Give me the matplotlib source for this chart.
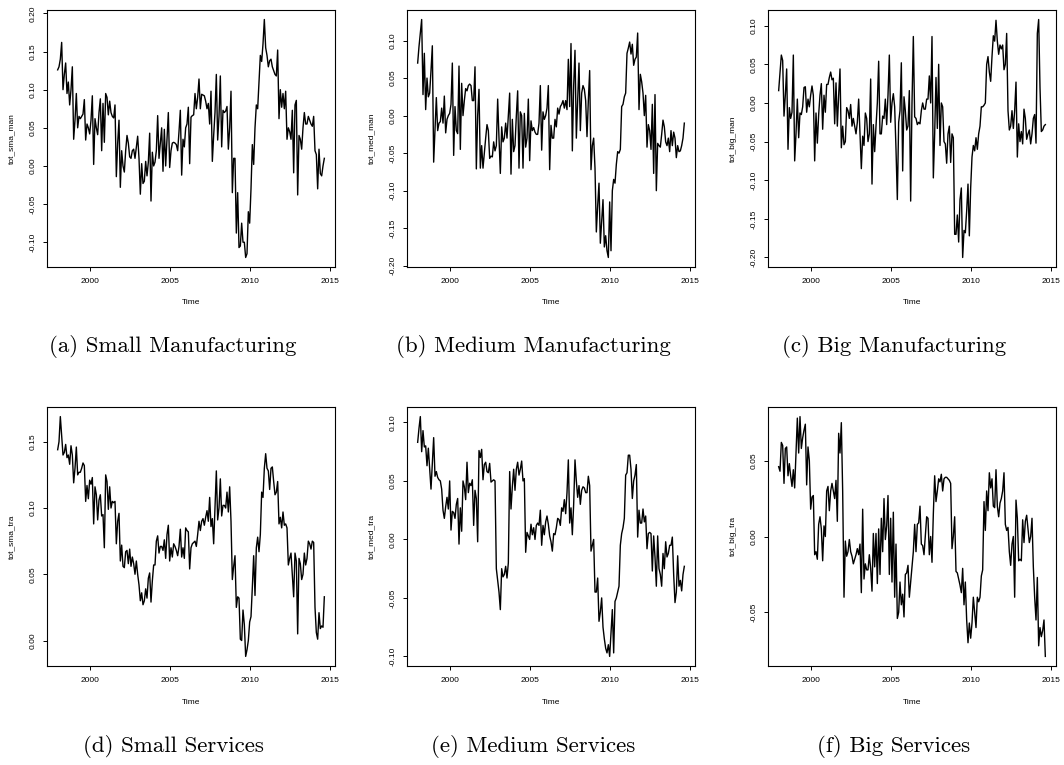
"""
Six monthly series of firm balances (manufacturing / services by size), 1998-2014
"""

import numpy as np
import matplotlib
matplotlib.use("Agg")
from matplotlib import pyplot as plt
from matplotlib.ticker import MultipleLocator, FormatStrFormatter

plt.rcParams['font.family'] = ['Liberation Sans', 'DejaVu Sans']
plt.rcParams['axes.unicode_minus'] = False

# --------------------------------------------------------------------------------------------------
# Data (monthly, Jan 1998 onwards, one row per year)
# --------------------------------------------------------------------------------------------------

start_year = 1998

tot_sma_man = [
    0.126, 0.13, 0.14, 0.162, 0.10, 0.12, 0.135, 0.095, 0.11, 0.08, 0.10, 0.13,
    0.035, 0.06, 0.095, 0.05, 0.065, 0.062, 0.065, 0.068, 0.087, 0.034, 0.055, 0.05,
    0.042, 0.06, 0.092, 0.002, 0.062, 0.05, 0.041, 0.07, 0.088, 0.02, 0.082, 0.031,
    0.095, 0.09, 0.067, 0.085, 0.07, 0.065, 0.063, 0.08, -0.014, 0.03, 0.06, -0.028,
    0.02, 0.0, -0.008, 0.02, 0.04, 0.03, 0.012, 0.01, 0.02, 0.022, 0.01, 0.025,
    0.039, 0.01, -0.037, 0.003, -0.023, -0.02, 0.006, -0.013, 0.005, 0.043, -0.046, 0.018,
    0.0, 0.005, 0.02, 0.066, 0.01, 0.03, 0.05, -0.007, 0.048, 0.0, 0.035, 0.07,
    -0.002, 0.02, 0.03, 0.031, 0.03, 0.028, 0.02, 0.045, 0.073, -0.012, 0.035, 0.025,
    0.05, 0.055, 0.077, 0.003, 0.064, 0.066, 0.067, 0.095, 0.075, 0.09, 0.114, 0.075,
    0.094, 0.093, 0.092, 0.085, 0.075, 0.082, 0.055, 0.098, 0.006, 0.04, 0.07, 0.12,
    0.034, 0.065, 0.118, 0.025, 0.073, 0.07, 0.072, 0.078, 0.022, 0.05, 0.098, -0.035,
    0.01, 0.01, -0.088, -0.035, -0.107, -0.105, -0.075, -0.1, -0.1, -0.12, -0.115, -0.06,
    -0.075, -0.03, 0.028, 0.002, 0.05, 0.08, 0.075, 0.11, 0.145, 0.137, 0.16, 0.192,
    0.155, 0.145, 0.13, 0.138, 0.14, 0.13, 0.125, 0.12, 0.118, 0.152, 0.062, 0.1,
    0.077, 0.095, 0.075, 0.098, 0.035, 0.05, 0.045, 0.035, 0.073, -0.009, 0.08, 0.086,
    -0.038, 0.04, 0.035, 0.022, 0.05, 0.07, 0.055, 0.055, 0.065, 0.06, 0.055, 0.052,
    0.065, 0.02, 0.015, -0.03, 0.022, -0.01, -0.013, 0.0, 0.01,
]

tot_med_man = [
    0.070, 0.092, 0.11, 0.128, 0.028, 0.083, 0.008, 0.05, 0.025, 0.03, 0.06, 0.093,
    -0.062, -0.02, 0.024, -0.02, -0.01, -0.008, 0.01, -0.01, 0.026, -0.023, -0.005, 0.0,
    0.003, 0.015, 0.07, -0.053, 0.012, -0.02, -0.024, 0.066, -0.045, 0.043, 0.0, 0.02,
    0.036, 0.033, 0.04, 0.042, 0.04, 0.02, 0.02, 0.065, -0.071, 0.0, 0.035, -0.07,
    -0.04, -0.07, -0.05, -0.03, -0.012, -0.02, -0.057, -0.054, -0.055, -0.035, -0.047, -0.04,
    0.022, -0.03, -0.077, -0.015, -0.035, -0.03, -0.01, -0.03, 0.0, 0.03, -0.078, -0.005,
    -0.048, -0.04, 0.0, 0.033, -0.07, 0.005, 0.0, -0.07, 0.003, -0.042, -0.03, 0.022,
    -0.06, -0.007, -0.02, -0.016, -0.022, -0.025, -0.025, -0.01, 0.04, -0.046, 0.005, -0.005,
    0.0, 0.01, 0.04, -0.072, -0.013, -0.03, -0.03, -0.005, -0.015, 0.01, 0.002, 0.012,
    0.015, 0.02, 0.01, 0.02, 0.008, 0.075, 0.012, 0.096, -0.047, 0.04, 0.087, -0.03,
    0.02, 0.07, -0.02, 0.03, 0.04, 0.035, 0.02, -0.028, 0.02, 0.06, -0.072, -0.04,
    -0.03, -0.07, -0.155, -0.12, -0.09, -0.17, -0.14, -0.112, -0.175, -0.16, -0.18, -0.189,
    -0.115, -0.18, -0.1, -0.085, -0.09, -0.065, -0.048, -0.05, -0.045, 0.012, 0.015, 0.025,
    0.03, 0.083, 0.09, 0.098, 0.082, 0.095, 0.067, 0.075, 0.078, 0.11, 0.008, 0.055,
    0.045, 0.03, 0.0, 0.027, -0.042, -0.012, -0.02, -0.045, 0.015, -0.077, 0.028, -0.1,
    -0.037, -0.04, -0.042, -0.025, -0.006, -0.015, -0.035, -0.04, -0.03, -0.048, -0.02, -0.04,
    -0.022, -0.03, -0.056, -0.04, -0.048, -0.047, -0.04, -0.03, -0.01,
]

tot_big_man = [
    0.016, 0.04, 0.062, 0.055, -0.017, 0.01, 0.044, -0.06, -0.006, -0.02, -0.012, 0.062,
    -0.075, -0.04, 0.005, -0.045, -0.013, -0.015, -0.005, 0.02, 0.021, -0.012, 0.005, -0.005,
    0.01, 0.022, 0.01, -0.075, -0.013, -0.052, -0.015, 0.01, 0.025, -0.034, 0.01, -0.012,
    0.024, 0.024, 0.033, 0.04, 0.03, 0.032, -0.027, 0.026, -0.03, 0.01, 0.044, -0.058,
    -0.03, -0.054, -0.05, -0.006, -0.01, -0.02, -0.002, -0.03, -0.02, -0.03, -0.04, -0.025,
    0.005, -0.04, -0.085, -0.043, -0.055, -0.013, -0.02, -0.05, -0.04, 0.031, -0.105, -0.028,
    -0.063, -0.03, 0.0, 0.054, -0.04, -0.04, -0.017, -0.02, 0.005, -0.028, 0.01, 0.062,
    -0.025, 0.0, 0.012, -0.005, -0.06, -0.125, -0.025, -0.01, 0.052, -0.088, 0.008, -0.01,
    -0.035, -0.03, 0.016, -0.127, 0.0, 0.086, -0.018, -0.02, -0.028, -0.025, -0.027, -0.01,
    0.0, -0.008, -0.008, 0.005, 0.005, 0.035, 0.0, 0.086, -0.097, -0.04, 0.033, -0.033,
    0.05, -0.055, 0.0, -0.005, -0.05, -0.053, -0.078, -0.04, -0.03, -0.077, -0.04, -0.045,
    -0.17, -0.17, -0.145, -0.18, -0.125, -0.11, -0.2, -0.165, -0.168, -0.14, -0.105, -0.172,
    -0.11, -0.07, -0.055, -0.062, -0.045, -0.06, -0.04, -0.03, -0.005, -0.005, -0.003, 0.0,
    0.05, 0.06, 0.04, 0.028, 0.06, 0.087, 0.08, 0.107, 0.08, 0.063, 0.075, 0.07,
    0.075, 0.043, 0.05, 0.09, -0.01, -0.035, -0.03, -0.01, -0.033, -0.01, 0.027, -0.07,
    -0.027, -0.05, -0.037, -0.053, -0.008, -0.02, -0.047, -0.04, -0.035, -0.053, -0.04, -0.02,
    -0.015, -0.052, 0.09, 0.108, 0.02, -0.037, -0.035, -0.03, -0.028,
]

tot_sma_tra = [
    0.144, 0.15, 0.169, 0.155, 0.14, 0.142, 0.148, 0.138, 0.14, 0.133, 0.147, 0.14,
    0.119, 0.13, 0.146, 0.125, 0.127, 0.127, 0.13, 0.134, 0.132, 0.105, 0.117, 0.107,
    0.121, 0.118, 0.123, 0.088, 0.116, 0.11, 0.091, 0.106, 0.11, 0.094, 0.095, 0.07,
    0.125, 0.12, 0.099, 0.116, 0.1, 0.105, 0.104, 0.105, 0.073, 0.09, 0.096, 0.06,
    0.072, 0.056, 0.055, 0.067, 0.068, 0.058, 0.069, 0.056, 0.063, 0.058, 0.05, 0.06,
    0.05, 0.042, 0.03, 0.036, 0.027, 0.03, 0.039, 0.032, 0.047, 0.051, 0.029, 0.045,
    0.057, 0.057, 0.075, 0.079, 0.066, 0.071, 0.071, 0.068, 0.076, 0.062, 0.08, 0.087,
    0.06, 0.07, 0.063, 0.073, 0.071, 0.068, 0.064, 0.071, 0.084, 0.063, 0.07, 0.062,
    0.085, 0.083, 0.082, 0.054, 0.07, 0.073, 0.074, 0.075, 0.071, 0.08, 0.09, 0.083,
    0.09, 0.092, 0.087, 0.093, 0.098, 0.09, 0.108, 0.086, 0.092, 0.073, 0.1, 0.128,
    0.091, 0.1, 0.122, 0.094, 0.102, 0.102, 0.1, 0.112, 0.097, 0.116, 0.09, 0.046,
    0.056, 0.064, 0.025, 0.033, 0.032, 0.001, 0.0, 0.023, 0.012, -0.012, -0.007, 0.0,
    0.014, 0.018, 0.04, 0.064, 0.034, 0.07, 0.078, 0.067, 0.08, 0.112, 0.108, 0.13,
    0.141, 0.13, 0.128, 0.114, 0.13, 0.131, 0.12, 0.11, 0.112, 0.12, 0.088, 0.093,
    0.085, 0.097, 0.087, 0.088, 0.085, 0.057, 0.062, 0.066, 0.05, 0.033, 0.066, 0.06,
    0.005, 0.062, 0.058, 0.046, 0.05, 0.066, 0.057, 0.062, 0.075, 0.073, 0.069, 0.075,
    0.074, 0.025, 0.006, 0.001, 0.021, 0.009, 0.011, 0.01, 0.033,
]

tot_med_tra = [
    0.083, 0.095, 0.105, 0.075, 0.093, 0.079, 0.08, 0.063, 0.078, 0.06, 0.043, 0.065,
    0.087, 0.054, 0.058, 0.053, 0.051, 0.05, 0.043, 0.025, 0.018, 0.028, 0.036, 0.026,
    0.05, 0.008, 0.024, 0.023, 0.018, 0.03, 0.035, -0.004, 0.027, 0.007, 0.05, 0.045,
    0.034, 0.066, 0.04, 0.048, 0.046, 0.051, 0.012, 0.042, 0.035, -0.002, 0.076, 0.07,
    0.077, 0.051, 0.064, 0.066, 0.058, 0.057, 0.065, 0.049, 0.05, 0.051, 0.05, -0.025,
    -0.035, -0.045, -0.06, -0.025, -0.032, -0.03, -0.023, -0.033, -0.02, 0.058, 0.026, 0.045,
    0.06, 0.042, 0.06, 0.066, 0.055, 0.06, 0.067, 0.05, 0.052, -0.011, 0.006, 0.003,
    0.0, 0.013, 0.004, 0.01, 0.0, 0.012, 0.014, 0.012, 0.025, -0.005, 0.012, 0.004,
    0.015, 0.02, 0.013, 0.003, -0.002, -0.01, 0.005, 0.004, 0.01, 0.018, 0.017, 0.012,
    0.027, 0.024, 0.034, 0.022, 0.04, 0.068, 0.014, 0.027, 0.004, 0.03, 0.068, 0.05,
    0.036, 0.046, 0.03, 0.042, 0.045, 0.044, 0.04, 0.04, 0.054, 0.046, -0.01, -0.005,
    0.0, -0.045, -0.045, -0.033, -0.07, -0.062, -0.05, -0.075, -0.085, -0.093, -0.097, -0.09,
    -0.1, -0.08, -0.06, -0.097, -0.053, -0.05, -0.045, -0.04, -0.005, 0.005, 0.01, 0.018,
    0.055, 0.057, 0.072, 0.072, 0.06, 0.035, 0.05, 0.055, 0.064, 0.002, 0.025, 0.014,
    0.014, 0.026, 0.015, 0.02, -0.008, 0.005, 0.006, 0.005, -0.027, 0.003, -0.015, -0.04,
    0.003, -0.025, -0.03, -0.04, -0.012, -0.025, -0.002, -0.015, -0.012, -0.005, -0.005, 0.002,
    -0.03, -0.054, -0.045, -0.014, -0.04, -0.035, -0.044, -0.03, -0.023,
]

tot_big_tra = [
    0.046, 0.043, 0.062, 0.06, 0.035, 0.058, 0.059, 0.04, 0.048, 0.04, 0.033, 0.044,
    0.032, 0.055, 0.078, 0.055, 0.079, 0.058, 0.065, 0.07, 0.074, 0.034, 0.059, 0.05,
    0.018, 0.026, 0.027, -0.012, -0.01, -0.015, 0.008, 0.013, 0.005, -0.016, 0.007, 0.0,
    0.03, 0.033, 0.017, 0.03, 0.035, 0.03, 0.025, 0.037, 0.01, 0.068, 0.055, 0.075,
    0.03, -0.04, -0.003, -0.013, -0.01, -0.002, -0.01, -0.013, -0.018, -0.015, -0.012, -0.008,
    -0.012, -0.005, -0.037, 0.018, -0.028, -0.018, -0.022, -0.022, -0.012, -0.021, -0.036, 0.002,
    -0.02, 0.002, -0.031, 0.005, -0.025, 0.012, -0.01, 0.025, -0.002, 0.007, 0.027, -0.025,
    0.012, -0.03, 0.016, -0.04, -0.005, -0.054, -0.05, -0.03, -0.045, -0.038, -0.053, -0.025,
    -0.024, -0.019, -0.04, -0.03, -0.02, -0.01, 0.008, -0.01, 0.008, 0.009, 0.02, -0.005,
    -0.006, -0.012, 0.0, 0.013, 0.012, -0.012, 0.0, -0.017, 0.015, 0.04, 0.023, 0.03,
    0.038, 0.036, 0.041, 0.03, 0.038, 0.039, 0.039, 0.038, 0.037, 0.035, -0.008, 0.0,
    0.013, -0.023, -0.024, -0.028, -0.032, -0.037, -0.021, -0.045, -0.03, -0.055, -0.07, -0.057,
    -0.067, -0.057, -0.04, -0.05, -0.06, -0.04, -0.043, -0.04, -0.026, -0.022, 0.023, 0.004,
    0.03, 0.017, 0.042, 0.032, 0.038, 0.02, 0.019, 0.044, 0.02, 0.013, 0.022, 0.025,
    0.03, 0.042, 0.008, 0.004, 0.006, -0.01, -0.019, -0.005, 0.0, -0.04, 0.024, 0.012,
    -0.016, -0.015, -0.016, 0.011, -0.004, 0.01, 0.014, 0.005, -0.004, 0.0, 0.012, -0.02,
    -0.04, -0.055, -0.027, -0.072, -0.06, -0.066, -0.062, -0.055, -0.079,
]

series = [tot_sma_man, tot_med_man, tot_big_man, tot_sma_tra, tot_med_tra, tot_big_tra]
ylabels = ['tot_sma_man', 'tot_med_man', 'tot_big_man',
           'tot_sma_tra', 'tot_med_tra', 'tot_big_tra']
captions = ['(a) Small Manufacturing', '(b) Medium Manufacturing', '(c) Big Manufacturing',
            '(d) Small Services', '(e) Medium Services', '(f) Big Services']
xticks = [2000, 2005, 2010, 2015]

# --------------------------------------------------------------------------------------------------
# Figure layout (pixel boxes converted to figure fractions)
# --------------------------------------------------------------------------------------------------

W, H = 1064, 765
fig = plt.figure(figsize=(W / 100, H / 100), dpi=100)

lefts = [47, 407, 768]
ax_w = 288
rows = [(10, 267), (407, 666)]         # top, bottom of each row of axes
caption_y = [347, 746]
caption_dx = 126                       # caption centre relative to axes left

for i, (vals, ylab, cap) in enumerate(zip(series, ylabels, captions)):
    r, c = divmod(i, 3)
    top, bot = rows[r]
    ax = fig.add_axes([lefts[c] / W, 1 - bot / H, ax_w / W, (bot - top) / H])

    vals = np.array(vals)
    t = start_year + np.arange(len(vals)) / 12
    ax.plot(t, vals, color='black', lw=1.0)
    ax.margins(x=0.04, y=0.04)

    ax.set_xticks(xticks)
    ax.yaxis.set_major_locator(MultipleLocator(0.05))
    ax.yaxis.set_major_formatter(FormatStrFormatter('%.2f'))

    ax.tick_params(direction='out', length=3.2, width=0.7, labelsize=6, colors='black')
    ax.tick_params(axis='x', pad=4.5)
    ax.tick_params(axis='y', pad=4, labelrotation=90)
    for lab in ax.get_yticklabels():
        lab.set_va('center')
    for s in ax.spines.values():
        s.set_linewidth(0.8)

    ax.set_xlabel('Time', fontsize=6)
    ax.set_ylabel(ylab, fontsize=6)
    ax.xaxis.set_label_coords(0.5, -36 / (bot - top))
    ax.xaxis.label.set_va('center')
    ax.yaxis.set_label_coords(-35 / ax_w, 0.5)
    ax.yaxis.label.set_va('center')

    fig.text((lefts[c] + caption_dx) / W, 1 - caption_y[r] / H, cap,
             family='cmr10', fontsize=16.5, ha='center', va='center')

fig.savefig('out.png', dpi=100)
